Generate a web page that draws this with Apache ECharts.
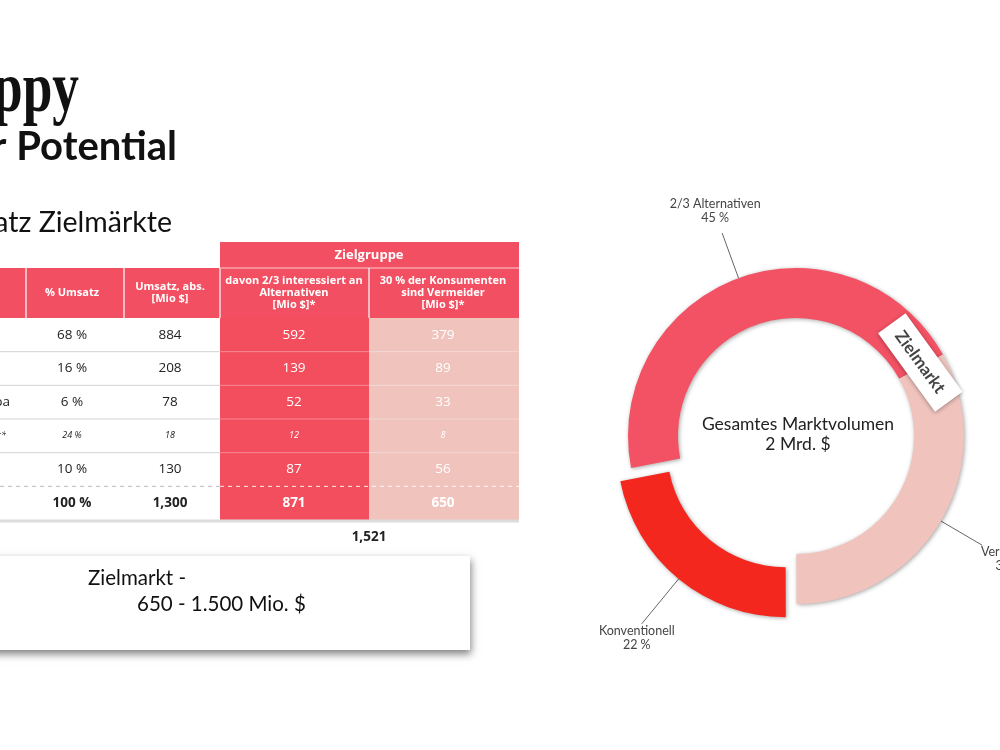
<!DOCTYPE html>
<html><head><meta charset="utf-8">
<script src="https://cdn.jsdelivr.net/npm/echarts@6/dist/echarts.min.js"></script>
<style>
html,body{margin:0;padding:0;overflow:hidden;background:#fff;width:1000px;height:750px}
#c{position:absolute;left:0;top:0;width:1100px;height:750px}
</style>
</head><body><div id="c"></div>
<script>
// ---- Donut data ----
const segmentNames = ['2/3 Alternativen', 'Vermeider', 'Konventionell'];
const segmentShares = [45, 33, 22];
const centerLines = ['Gesamtes Marktvolumen', '2 Mrd. $'];

// ---- Table data ----
const rowLabels = ['', '', 'Europa', '**', '', ''];
const umsatzPct = [68, 16, 6, 24, 10, 100];
const umsatzAbs = [884, 208, 78, 18, 130, 1300];
const alternativenMio = [592, 139, 52, 12, 87, 871];
const vermeiderMio = [379, 89, 33, 8, 56, 650];
const zielmarktSumme = 1521;
const headerGroup = 'Zielgruppe';
const headerLabels = ['% Umsatz', 'Umsatz, abs.\n[Mio $]', 'davon 2/3 interessiert an\nAlternativen\n[Mio $]*', '30 % der Konsumenten\nsind Vermeider\n[Mio $]*'];

// ---- Slide texts ----
const titleTop = 'ppy';
const titleSub = 'r Potential';
const sectionTitle = 'Umsatz Zielmärkte';
const boxLine1 = 'Zielmarkt -';
const boxLine2 = '650 - 1.500 Mio. $';
const tagText = 'Zielmarkt';

const RED = '#F25062';
const RED_COL = '#F24E5E';
const PINK = '#F0C3BD';
const SEG_COLORS = ['#F25264', '#F0C3BD', '#F4271F'];
const FONT = '"Open Sans", "Noto Sans", sans-serif';
const FONT2 = 'Lato, "Noto Sans", sans-serif';

const fmt = n => n.toLocaleString('en-US');

const chart = echarts.init(document.getElementById('c'), null, {renderer: 'canvas'});

// ---- table graphic ----
const colCenters = [72, 170, 294, 443];
const rowTop = 318, rowH = 33.67;
const g = [];
// titles
g.push({type: 'text', x: 79, y: 92, scaleX: 0.74, style: {text: titleTop, font: 'bold 72px "Liberation Serif"', fill: '#111', textAlign: 'right', textVerticalAlign: 'middle'}});
g.push({type: 'text', x: 177, y: 147, style: {text: titleSub, font: 'bold 40px ' + FONT2, fill: '#111', textAlign: 'right', textVerticalAlign: 'middle'}});
g.push({type: 'text', x: 172, y: 223, style: {text: sectionTitle, font: '28.5px ' + FONT2, fill: '#111', textAlign: 'right', textVerticalAlign: 'middle'}});
// header 1
g.push({type: 'rect', shape: {x: 220, y: 242, width: 299, height: 26}, style: {fill: RED}});
g.push({type: 'text', x: 369, y: 255, style: {text: headerGroup, font: 'bold 13px ' + FONT, fill: '#fff', textAlign: 'center', textVerticalAlign: 'middle'}});
// header 2
g.push({type: 'rect', shape: {x: -200, y: 268, width: 719, height: 50}, style: {fill: RED}});
g.push({type: 'line', shape: {x1: 220, y1: 268, x2: 519, y2: 268}, style: {stroke: 'rgba(255,255,255,0.7)', lineWidth: 1}});
[26, 124, 220, 369].forEach(x => g.push({type: 'line', shape: {x1: x, y1: 268, x2: x, y2: 318}, style: {stroke: 'rgba(255,255,255,0.8)', lineWidth: 1.5}}));
headerLabels.forEach((t, i) => g.push({type: 'text', x: colCenters[i], y: 293, style: {text: t, font: 'bold 11px ' + FONT, lineHeight: 12, fill: '#fff', textAlign: 'center', textVerticalAlign: 'middle'}}));
// colored data columns
const nRows = umsatzPct.length;
const tableBottom = rowTop + rowH * nRows;
g.push({type: 'rect', shape: {x: 220, y: rowTop, width: 149, height: tableBottom - rowTop}, style: {fill: RED_COL}});
g.push({type: 'rect', shape: {x: 369, y: rowTop, width: 150, height: tableBottom - rowTop}, style: {fill: PINK}});
// row separators
for (let i = 1; i < nRows; i++) {
  const y = rowTop + rowH * i;
  const dashed = i === nRows - 1;
  g.push({type: 'line', shape: {x1: -200, y1: y, x2: 220, y2: y}, style: {stroke: dashed ? '#bbb' : '#d3d3d3', lineWidth: 1, lineDash: dashed ? [4, 4] : null}});
  g.push({type: 'line', shape: {x1: 220, y1: y, x2: 519, y2: y}, style: {stroke: dashed ? 'rgba(255,255,255,0.9)' : 'rgba(255,255,255,0.35)', lineWidth: 1, lineDash: dashed ? [4, 4] : null}});
}
g.push({type: 'line', shape: {x1: -200, y1: tableBottom + 1, x2: 519, y2: tableBottom + 1}, style: {stroke: '#dcdcdc', lineWidth: 3}});
// cell texts
for (let r = 0; r < nRows; r++) {
  const y = rowTop + rowH * (r + 0.5);
  const italic = r === 3, bold = r === nRows - 1;
  const size = italic ? 9 : 13.5;
  const f = (italic ? 'italic ' : '') + (bold ? 'bold ' : '') + size + 'px ' + FONT;
  const vals = [umsatzPct[r] + ' %', fmt(umsatzAbs[r]), fmt(alternativenMio[r]), fmt(vermeiderMio[r])];
  vals.forEach((v, c) => g.push({type: 'text', x: colCenters[c], y: y, style: {text: v, font: f, fill: c >= 2 ? '#fff' : '#222', textAlign: 'center', textVerticalAlign: 'middle'}}));
  if (rowLabels[r]) g.push({type: 'text', x: italic ? 6 : 10, y: y, style: {text: rowLabels[r], font: f, fill: '#222', textAlign: 'right', textVerticalAlign: 'middle'}});
}
g.push({type: 'text', x: 369, y: 537, style: {text: fmt(zielmarktSumme), font: 'bold 13.5px ' + FONT, fill: '#222', textAlign: 'center', textVerticalAlign: 'middle'}});
// Zielmarkt box
g.push({type: 'rect', shape: {x: -30, y: 556, width: 500, height: 94}, style: {fill: '#fff', shadowBlur: 8, shadowColor: 'rgba(0,0,0,0.5)', shadowOffsetY: 4, shadowOffsetX: 1}});
g.push({type: 'text', x: 88, y: 578, style: {text: boxLine1, font: '20.5px ' + FONT2, fill: '#111', textAlign: 'left', textVerticalAlign: 'middle'}});
g.push({type: 'text', x: 137, y: 604, style: {text: boxLine2, font: '20.5px ' + FONT2, fill: '#111', textAlign: 'left', textVerticalAlign: 'middle'}});
// donut center text
g.push({type: 'text', x: 798, y: 424, z: 10, style: {text: centerLines[0], font: '17.5px ' + FONT2, fill: '#222', textAlign: 'center', textVerticalAlign: 'middle'}});
g.push({type: 'text', x: 798, y: 444, z: 10, style: {text: centerLines[1], font: '17.5px ' + FONT2, fill: '#222', textAlign: 'center', textVerticalAlign: 'middle'}});
// Zielmarkt tag on donut
g.push({type: 'rect', x: 920, y: 362, rotation: -54 * Math.PI / 180, z: 100, zlevel: 1,
  shape: {x: -48, y: -17, width: 97, height: 34}, style: {fill: '#fff', shadowBlur: 4, shadowColor: 'rgba(0,0,0,0.35)', shadowOffsetY: 1}});
g.push({type: 'text', x: 920, y: 362, rotation: -54 * Math.PI / 180, z: 101, zlevel: 1,
  style: {text: tagText, font: 'bold 17px ' + FONT2, fill: '#444', textAlign: 'center', textVerticalAlign: 'middle'}});

const labelOffsets = [[-7, -8, 'bottom'], [27, 0, 'top'], [-14, 6, 'top']];
const labelLineLengths = [48, 48, 58];

chart.setOption({
  animation: false,
  backgroundColor: '#fff',
  graphic: {elements: g},
  series: [{
    type: 'pie',
    center: [796, 436],
    radius: [118, 168],
    startAngle: 191,
    clockwise: true,
    selectedMode: 'single',
    selectedOffset: 17,
    avoidLabelOverlap: false,
    emphasis: {disabled: true},
    itemStyle: {shadowBlur: 4, shadowColor: 'rgba(0,0,0,0.35)', shadowOffsetX: 1, shadowOffsetY: 1},
    label: {
      show: true, position: 'outside', formatter: '{b}\n{c} %',
      color: '#444', fontSize: 12.5, lineHeight: 14, fontFamily: FONT2
    },
    labelLine: {show: true, length: 48, length2: 0, smooth: false, lineStyle: {color: '#666', width: 1}},
    labelLayout: function (p) {
      const pts = p.labelLinePoints;
      if (!pts) return {};
      const e = pts[pts.length - 1];
      const o = labelOffsets[p.dataIndex];
      return {x: e[0] + o[0], y: e[1] + o[1], align: 'center', verticalAlign: o[2], labelLinePoints: pts};
    },
    data: segmentNames.map((n, i) => ({
      name: n, value: segmentShares[i], selected: i === 2,
      itemStyle: {color: SEG_COLORS[i]},
      labelLine: {length: labelLineLengths[i]}
    }))
  }]
});
</script>
</body></html>
